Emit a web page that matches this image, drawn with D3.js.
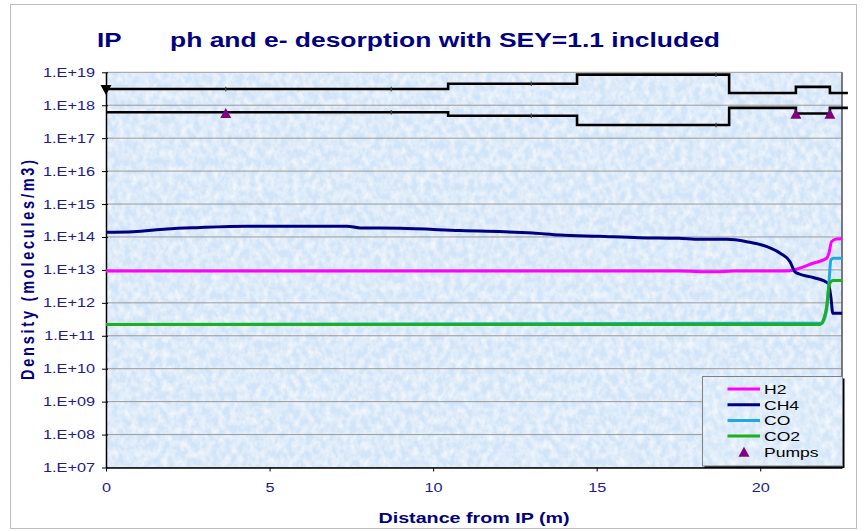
<!DOCTYPE html>
<html>
<head>
<meta charset="utf-8">
<script src="https://cdn.jsdelivr.net/npm/d3@7"></script>
<style>
  html, body { margin: 0; padding: 0; background: #ffffff; }
  svg { display: block; font-family: "Liberation Sans", Arial, sans-serif; }
</style>
</head>
<body>
<svg id="chart" width="866" height="531"></svg>
<script>
// ---------- DATA ----------
const titleLeft = "IP";
const titleMain = "ph and e- desorption with SEY=1.1 included";
const xAxisTitle = "Distance from IP (m)";
const yAxisTitle = "Density (molecules/m3)";

const xTickValues = [0, 5, 10, 15, 20];
const xTickLabels = ["0", "5", "10", "15", "20"];
const yTickValues = [1e7, 1e8, 1e9, 1e10, 1e11, 1e12, 1e13, 1e14, 1e15, 1e16, 1e17, 1e18, 1e19];
const yTickLabels = ["1.E+07", "1.E+08", "1.E+09", "1.E+10", "1.E+11", "1.E+12", "1.E+13",
                     "1.E+14", "1.E+15", "1.E+16", "1.E+17", "1.E+18", "1.E+19"];

const seriesNames = ["H2", "CH4", "CO", "CO2"];

const h2X = [0, 5, 10, 15, 17.5, 18.6, 19.2, 20.5, 20.91, 21.19, 21.61, 22.03, 22.1, 22.18, 22.33, 22.5];
const h2Y = [9.2e12, 9.2e12, 9.2e12, 9.3e12, 9.2e12, 8.8e12, 9.2e12, 9.3e12, 9.5e12, 1.11e13, 1.59e13, 2.25e13, 3.2e13, 7.2e13, 8.7e13, 8.8e13];

const ch4X = [0, 0.83, 1.86, 2.78, 4.31, 7.37, 7.77, 8.99, 10.82, 13.05, 13.88, 15.07, 16.29, 17.51, 18.16, 18.98,
              19.59, 20.2, 20.61, 20.91, 21.06, 21.19, 21.62, 22.08, 22.16, 22.22, 22.5];
const ch4Y = [1.39e14, 1.45e14, 1.75e14, 1.92e14, 2.12e14, 2.12e14, 1.88e14, 1.84e14, 1.56e14, 1.32e14, 1.15e14, 1.05e14,
              9.5e13, 9.1e13, 8.5e13, 8.5e13, 7.2e13, 5.1e13, 3.2e13, 1.78e13, 8.8e12, 7.5e12, 5.9e12, 3.9e12, 1.5e12, 4.8e11, 4.8e11];

const coX = [0, 21.88, 22.03, 22.1, 22.16, 22.24, 22.5];
const coY = [2.2e11, 2.4e11, 6e11, 4e12, 2e13, 2.25e13, 2.25e13];

const co2X = [0, 21.83, 21.93, 22.03, 22.1, 22.16, 22.22, 22.5];
const co2Y = [2.2e11, 2.2e11, 3e11, 7.6e11, 3.1e12, 4.4e12, 4.8e12, 4.8e12];

// black step lines (upper and lower)
const stepX = [0, 10.46, 10.46, 14.4, 14.4, 19.05, 19.05, 21.09, 21.09, 22.13, 22.13, 22.68];
const upperY = [3.1e18, 3.1e18, 4.5e18, 4.5e18, 8.5e18, 8.5e18, 2.35e18, 2.35e18, 3.6e18, 3.6e18, 2.35e18, 2.35e18];
const lowerY = [6.1e17, 6.1e17, 4.8e17, 4.8e17, 2.5e17, 2.5e17, 8.3e17, 8.3e17, 5.6e17, 5.6e17, 8.3e17, 8.3e17];
const stepMarkX = [3.66, 8.72, 13.0, 18.65];

const ipMarkerX = [0];
const ipMarkerY = [3.1e18];

const pumpX = [3.66, 21.09, 22.13];
const pumpY = [5.8e17, 5.5e17, 5.5e17];

// ---------- STYLES ----------
const colors = { H2: "#ff00ff", CH4: "#000080", CO: "#1fa8e6", CO2: "#1cb01c" };
const navy = "#000080";
const labelNavy = "#1c1c8a";

// ---------- SETUP ----------
const svg = d3.select("#chart");
const L = 106, R = 842, T = 72.3, B = 467.5;
const x = d3.scaleLinear().domain([0, 22.5]).range([L, R]);
const y = d3.scaleLog().domain([1e7, 1e19]).range([B, T]);

const SX = 1.3; // horizontal stretch of text (as in the original rendering)
function stretch(sel, sx) {
  sel.each(function () {
    const w = this.getComputedTextLength();
    d3.select(this).attr("textLength", w * sx).attr("lengthAdjust", "spacingAndGlyphs");
  });
}

const defs = svg.append("defs");
const filt = defs.append("filter").attr("id", "tex").attr("x", 0).attr("y", 0).attr("width", 1).attr("height", 1);
filt.append("feTurbulence").attr("type", "fractalNoise").attr("baseFrequency", "0.16 0.12")
  .attr("numOctaves", 3).attr("seed", 7).attr("result", "n");
filt.append("feColorMatrix").attr("in", "n").attr("type", "matrix")
  .attr("values", "0 0 0 0 1  0 0 0 0 1  0 0 0 0 1  1.3 0 0 0 -0.42").attr("result", "w");
filt.append("feComposite").attr("in", "w").attr("in2", "SourceGraphic").attr("operator", "atop");

defs.append("clipPath").attr("id", "plotClip")
  .append("rect").attr("x", L).attr("y", T - 2).attr("width", R - L).attr("height", B - T + 4);

// outer chart border
svg.append("rect").attr("x", 10.5).attr("y", 4.5).attr("width", 846).attr("height", 524)
  .attr("fill", "#fff").attr("stroke", "#bdbdbd").attr("stroke-width", 1);

// plot background
svg.append("rect").attr("x", L).attr("y", T).attr("width", R - L).attr("height", B - T)
  .attr("fill", "#d2e4f8").attr("filter", "url(#tex)");

// gridlines
svg.append("g").selectAll("line").data(yTickValues).join("line")
  .attr("x1", L).attr("x2", R).attr("y1", d => y(d)).attr("y2", d => y(d))
  .attr("stroke", "#9a9a9a").attr("stroke-width", 1);

// right plot border
svg.append("line").attr("x1", R).attr("x2", R).attr("y1", T).attr("y2", B)
  .attr("stroke", "#505050").attr("stroke-width", 1.5);

// ---------- AXES ----------
const yAxis = d3.axisLeft(y).tickValues(yTickValues)
  .tickFormat((d, i) => yTickLabels[i]).tickSize(4).tickSizeOuter(0).tickPadding(7);
const gy = svg.append("g").attr("transform", `translate(${L},0)`).call(yAxis);
gy.select(".domain").attr("stroke", "#000").attr("stroke-width", 1.5);
gy.selectAll(".tick line").attr("stroke", "#000").attr("x1", 2);
gy.selectAll("text").attr("font-size", 12.5).attr("fill", labelNavy)
  .attr("font-family", "'Liberation Sans', Arial, sans-serif");
stretch(gy.selectAll("text"), SX);

const xAxis = d3.axisBottom(x).tickValues(xTickValues)
  .tickFormat((d, i) => xTickLabels[i]).tickSize(4).tickSizeOuter(0).tickPadding(12);
const gx = svg.append("g").attr("transform", `translate(0,${B})`).call(xAxis);
gx.select(".domain").attr("stroke", "#000").attr("stroke-width", 1.5);
gx.selectAll(".tick line").attr("stroke", "#000");
gx.selectAll("text").attr("font-size", 12.5).attr("fill", labelNavy)
  .attr("font-family", "'Liberation Sans', Arial, sans-serif");
stretch(gx.selectAll("text"), SX);

// ---------- SERIES ----------
const smooth = d3.line().x(d => x(d[0])).y(d => y(d[1])).curve(d3.curveMonotoneX);
const straight = d3.line().x(d => x(d[0])).y(d => y(d[1]));

// black step lines (not clipped, they run slightly past the plot edge)
[upperY, lowerY].forEach(vals => {
  svg.append("path").datum(stepX.map((v, i) => [v, vals[i]]))
    .attr("d", straight).attr("fill", "none").attr("stroke", "#000").attr("stroke-width", 2.6);
  svg.append("g").selectAll("rect").data(stepMarkX).join("rect")
    .attr("x", d => x(d) - 0.6).attr("width", 1.2)
    .attr("y", d => {
      let v = vals[0];
      for (let i = 0; i < stepX.length; i++) if (stepX[i] <= d) v = vals[i];
      return y(v) - 2.3;
    })
    .attr("height", 4.6).attr("fill", "#444");
});

// colored series
const seriesData = [
  { name: "H2", xs: h2X, ys: h2Y },
  { name: "CH4", xs: ch4X, ys: ch4Y },
  { name: "CO", xs: coX, ys: coY },
  { name: "CO2", xs: co2X, ys: co2Y }
];
const gs = svg.append("g").attr("clip-path", "url(#plotClip)");
seriesData.forEach(s => {
  gs.append("path").datum(s.xs.map((v, i) => [v, s.ys[i]]))
    .attr("d", smooth).attr("fill", "none")
    .attr("stroke", colors[s.name]).attr("stroke-width", 3).attr("stroke-linejoin", "round");
});

// IP marker (down triangle)
const triDown = (cx, cy, w, h) => `M${cx - w / 2},${cy - h / 2}L${cx + w / 2},${cy - h / 2}L${cx},${cy + h / 2}Z`;
const triUp = (cx, cy, w, h) => `M${cx - w / 2},${cy + h / 2}L${cx + w / 2},${cy + h / 2}L${cx},${cy - h / 2}Z`;
svg.append("g").selectAll("path").data(ipMarkerX).join("path")
  .attr("d", (d, i) => triDown(x(d), y(ipMarkerY[i]) + 1, 11, 10)).attr("fill", "#000");

// pumps
svg.append("g").selectAll("path").data(pumpX).join("path")
  .attr("d", (d, i) => triUp(x(d), y(pumpY[i]), 11, 10)).attr("fill", "#800080");

// ---------- LEGEND ----------
const lg = svg.append("g");
const lx = 702.5, ly = 376.5, lw = 140, lh = 89.5;
lg.append("rect").attr("x", lx + 2).attr("y", ly + 2).attr("width", lw).attr("height", lh).attr("fill", "#000");
lg.append("rect").attr("x", lx).attr("y", ly).attr("width", lw).attr("height", lh)
  .attr("fill", "#d4e6f8").attr("filter", "url(#tex)");
lg.append("rect").attr("x", lx).attr("y", ly).attr("width", lw).attr("height", lh)
  .attr("fill", "none").attr("stroke", "#808080").attr("stroke-width", 1);
const legendNames = seriesNames.concat(["Pumps"]);
const rowY = i => 389 + i * 15.7;
legendNames.forEach((name, i) => {
  if (i < 4) {
    lg.append("line").attr("x1", 727.5).attr("x2", 760).attr("y1", rowY(i)).attr("y2", rowY(i))
      .attr("stroke", colors[name]).attr("stroke-width", 3);
  } else {
    lg.append("path").attr("d", triUp(744, rowY(i), 11, 10)).attr("fill", "#800080");
  }
  const t = lg.append("text").attr("x", 764).attr("y", rowY(i)).attr("dy", "0.36em")
    .attr("font-size", 13.5).attr("fill", "#000").text(name);
  stretch(t, SX);
});

// ---------- TITLES ----------
const t1 = svg.append("text").attr("x", 97).attr("y", 47).attr("font-size", 20).attr("font-weight", "bold")
  .attr("fill", navy).text(titleLeft);
stretch(t1, SX);
svg.append("text").attr("x", 170).attr("y", 47).attr("font-size", 20).attr("font-weight", "bold")
  .attr("fill", navy).attr("textLength", 550).attr("lengthAdjust", "spacingAndGlyphs").text(titleMain);

svg.append("text").attr("x", 474).attr("y", 523).attr("text-anchor", "middle")
  .attr("font-size", 14).attr("font-weight", "bold").attr("fill", navy)
  .attr("textLength", 191).attr("lengthAdjust", "spacingAndGlyphs").text(xAxisTitle);

svg.append("text").attr("transform", "translate(27,270) scale(1.3,1) rotate(-90)")
  .attr("text-anchor", "middle").attr("dy", "0.35em")
  .attr("font-size", 14.5).attr("font-weight", "bold").attr("fill", navy)
  .attr("textLength", 220).attr("lengthAdjust", "spacing").text(yAxisTitle);
</script>
</body>
</html>
